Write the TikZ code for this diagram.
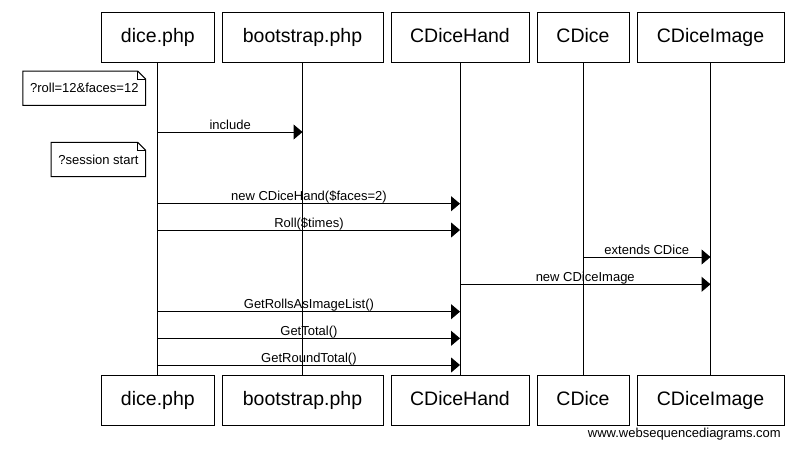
\documentclass[tikz,border=0pt]{standalone}
\usepackage{fontspec}
\setmainfont{Liberation Sans}
\usetikzlibrary{positioning,arrows.meta}

\begin{document}
\begin{tikzpicture}[x=1pt, y=-1pt,
  actor/.style = {draw, line width=1pt, outer sep=0pt, inner xsep=0pt, minimum height=50pt, text height=14pt, text depth=4pt, font=\fontsize{19.5}{23}\selectfont},
  life/.style = {line width=1pt},
  msg/.style = {line width=1pt, -{Triangle[length=9pt,width=15pt]}},
  lbl/.style = {anchor=base, yshift=3pt, inner sep=0pt, font=\fontsize{13}{15}\selectfont},
  memo/.style = {inner xsep=7pt, minimum height=34pt, font=\fontsize{13}{15}\selectfont}]
\useasboundingbox (0,0) rectangle (796,448);
% participants, top row
\node[actor, minimum width=112.3pt, anchor=north west] (dice) at (101.7,12) {dice.php};
\node[actor, minimum width=161pt, right=8pt of dice] (boot) {bootstrap.php};
\node[actor, minimum width=138pt, right=8pt of boot] (hand) {CDiceHand};
\node[actor, minimum width=92pt, right=8pt of hand] (cdice) {CDice};
\node[actor, minimum width=147pt, right=8pt of cdice] (img) {CDiceImage};
% participants, bottom row
\node[actor, minimum width=112.3pt, anchor=north west] (dice2) at (101.7,375) {dice.php};
\node[actor, minimum width=161pt, right=8pt of dice2] (boot2) {bootstrap.php};
\node[actor, minimum width=138pt, right=8pt of boot2] (hand2) {CDiceHand};
\node[actor, minimum width=92pt, right=8pt of hand2] (cdice2) {CDice};
\node[actor, minimum width=147pt, right=8pt of cdice2] (img2) {CDiceImage};
% lifelines
\draw[life] (dice) -- (dice2);
\draw[life] (boot) -- (boot2);
\draw[life] (hand) -- (hand2);
\draw[life] (cdice) -- (cdice2);
\draw[life] (img) -- (img2);
% notes
\node[memo, anchor=north east] (n1) at (145.7,71) {?roll=12\&faces=12};
\draw[life] (n1.north west) -- ([xshift=-8pt]n1.north east) -- ([yshift=-8pt]n1.north east) -- (n1.south east) -- (n1.south west) -- cycle;
\draw[life] ([xshift=-8pt]n1.north east) -- ([xshift=-8pt,yshift=-8pt]n1.north east) -- ([yshift=-8pt]n1.north east);
\node[memo, anchor=north east] (n2) at (145.7,142.3) {?session start};
\draw[life] (n2.north west) -- ([xshift=-8pt]n2.north east) -- ([yshift=-8pt]n2.north east) -- (n2.south east) -- (n2.south west) -- cycle;
\draw[life] ([xshift=-8pt]n2.north east) -- ([xshift=-8pt,yshift=-8pt]n2.north east) -- ([yshift=-8pt]n2.north east);
% messages
\draw[msg] (dice |- 0,132) -- (boot |- 0,132) node[lbl, midway] {include};
\draw[msg] (dice |- 0,203.7) -- (hand |- 0,203.7) node[lbl, midway] {new CDiceHand(\$faces=2)};
\draw[msg] (dice |- 0,230) -- (hand |- 0,230) node[lbl, midway] {Roll(\$times)};
\draw[msg] (cdice |- 0,257) -- (img |- 0,257) node[lbl, midway] {extends CDice};
\draw[msg] (hand |- 0,284.3) -- (img |- 0,284.3) node[lbl, midway] {new CDiceImage};
\draw[msg] (dice |- 0,311.7) -- (hand |- 0,311.7) node[lbl, midway] {GetRollsAsImageList()};
\draw[msg] (dice |- 0,338.3) -- (hand |- 0,338.3) node[lbl, midway] {GetTotal()};
\draw[msg] (dice |- 0,365) -- (hand |- 0,365) node[lbl, midway] {GetRoundTotal()};
\node[anchor=base east, inner sep=0pt, font=\fontsize{13}{15}\selectfont] (wsd) at (781,437) {www.websequencediagrams.com};
\end{tikzpicture}
\end{document}
